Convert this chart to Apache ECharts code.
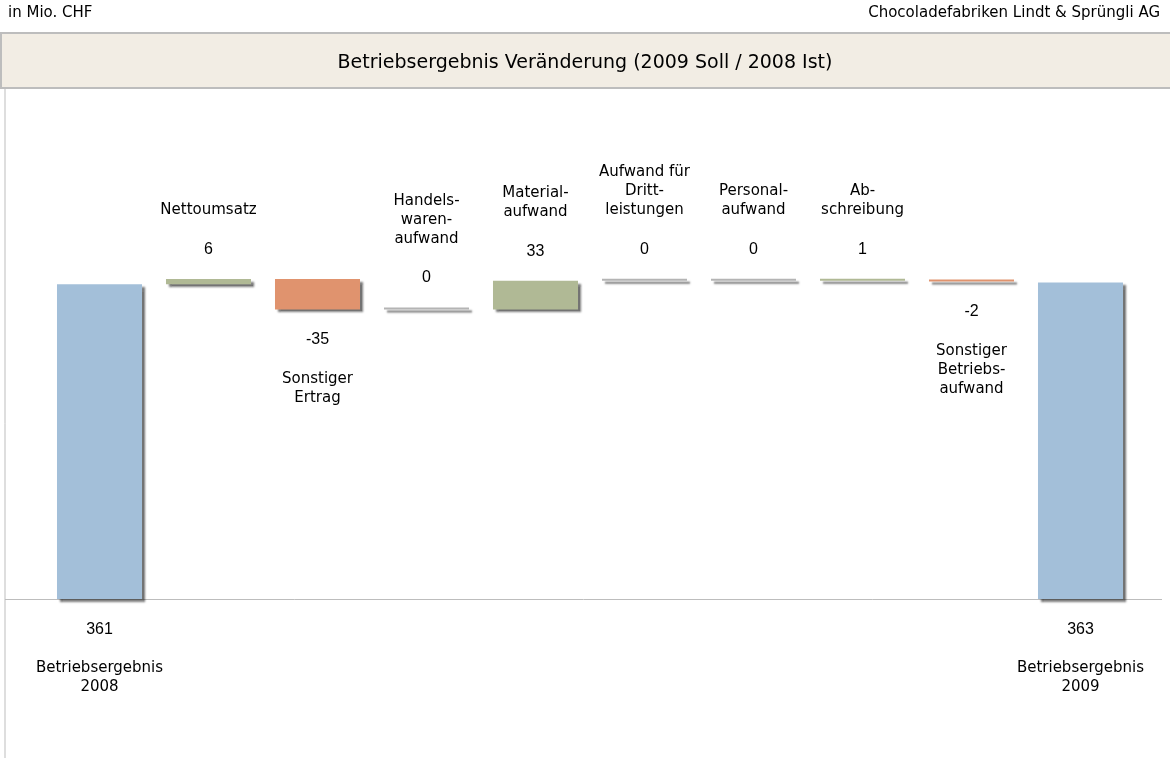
<!DOCTYPE html>
<html>
<head>
<meta charset="utf-8">
<script src="https://cdn.jsdelivr.net/npm/echarts@6/dist/echarts.min.js"></script>
<style>
  html, body { margin: 0; padding: 0; background: #fff; }
  #chart { width: 1170px; height: 758px; }
</style>
</head>
<body>
<div id="chart"></div>
<script>
// Kategorien (Zeilenumbrüche wie im Original)
const categories = [
  'Betriebsergebnis\n2008', 'Nettoumsatz', 'Sonstiger\nErtrag', 'Handels-\nwaren-\naufwand',
  'Material-\naufwand', 'Aufwand für\nDritt-\nleistungen', 'Personal-\naufwand',
  'Ab-\nschreibung', 'Sonstiger\nBetriebs-\naufwand', 'Betriebsergebnis\n2009'
];
// Werte in Mio. CHF, erster und letzter sind Summen
const values = [361, 6, -35, 0, 33, 0, 0, 1, -2, 363];
const totals = [true, false, false, false, false, false, false, false, false, true];

const COLOR_TOTAL = '#a3bfd9';
const COLOR_UP = '#b0b995';
const COLOR_DOWN = '#e0936e';
const COLOR_ZERO = '#b4b4b4';

// Wasserfall: unsichtbare Basis + sichtbarer Balken
let running = 0;
const baseData = [];
const barData = [];
values.forEach((v, i) => {
  const names = categories[i].split('\n').map(l => `{n|${l}}`).join('\n');
  let base, h, color, below;
  if (totals[i]) {
    base = 0; h = v; running = v; color = COLOR_TOTAL; below = true;
  } else if (v >= 0) {
    base = running; h = v; running += v; color = v === 0 ? COLOR_ZERO : COLOR_UP; below = false;
  } else {
    base = running + v; h = -v; running += v; color = COLOR_DOWN; below = true;
  }
  baseData.push(base);
  barData.push({
    value: h,
    itemStyle: { color: color },
    label: below
      ? { position: 'bottom', distance: 21, formatter: `{v|${v}}\n{g| }\n${names}` }
      : { position: 'top', distance: 20, formatter: `${names}\n{g| }\n{v|${v}}` }
  });
});

const chart = echarts.init(document.getElementById('chart'));
chart.setOption({
  animation: false,
  backgroundColor: '#fff',
  title: [
    { text: 'in Mio. CHF', left: 8, top: 6, padding: 0,
      textStyle: { fontFamily: 'DejaVu Sans', fontSize: 15, fontWeight: 'normal', color: '#000' } },
    { text: 'Chocoladefabriken Lindt & Sprüngli AG', right: 10, top: 6, padding: 0,
      textStyle: { fontFamily: 'DejaVu Sans', fontSize: 15, fontWeight: 'normal', color: '#000' } },
    { text: 'Betriebsergebnis Veränderung (2009 Soll / 2008 Ist)', left: 'center', top: 54, padding: 0,
      textStyle: { fontFamily: 'DejaVu Sans', fontSize: 19, fontWeight: 'normal', color: '#000' } }
  ],
  graphic: [
    { type: 'rect', z: -10, shape: { x: 1, y: 33, width: 1180, height: 55 },
      style: { fill: '#f2ede4', stroke: '#bdbdbd', lineWidth: 2 } },
    { type: 'line', z: -10, shape: { x1: 5, y1: 89, x2: 5, y2: 758 },
      style: { stroke: '#bdbdbd', lineWidth: 1 } },
    { type: 'line', z: -10, shape: { x1: 5, y1: 599.5, x2: 1162, y2: 599.5 },
      style: { stroke: '#bdbdbd', lineWidth: 1 } }
  ],
  grid: { left: 45, right: 35, top: 163, bottom: 159 },
  xAxis: { type: 'category', data: categories, show: false },
  yAxis: { type: 'value', min: 0, max: 500, show: false },
  series: [
    {
      type: 'bar', stack: 'wf', data: baseData, barWidth: '78%',
      itemStyle: { color: 'transparent' }, silent: true
    },
    {
      type: 'bar', stack: 'wf', data: barData, barWidth: '78%', barMinHeight: 2,
      itemStyle: {
        shadowColor: 'rgba(0,0,0,0.55)', shadowBlur: 2, shadowOffsetX: 3, shadowOffsetY: 3
      },
      label: {
        show: true, color: '#000',
        rich: {
          n: { fontFamily: 'DejaVu Sans', fontSize: 15, lineHeight: 19, color: '#000' },
          v: { fontFamily: 'Liberation Sans', fontSize: 16, lineHeight: 19, color: '#000' },
          g: { fontSize: 8, lineHeight: 20 }
        }
      }
    }
  ]
});
</script>
</body>
</html>
